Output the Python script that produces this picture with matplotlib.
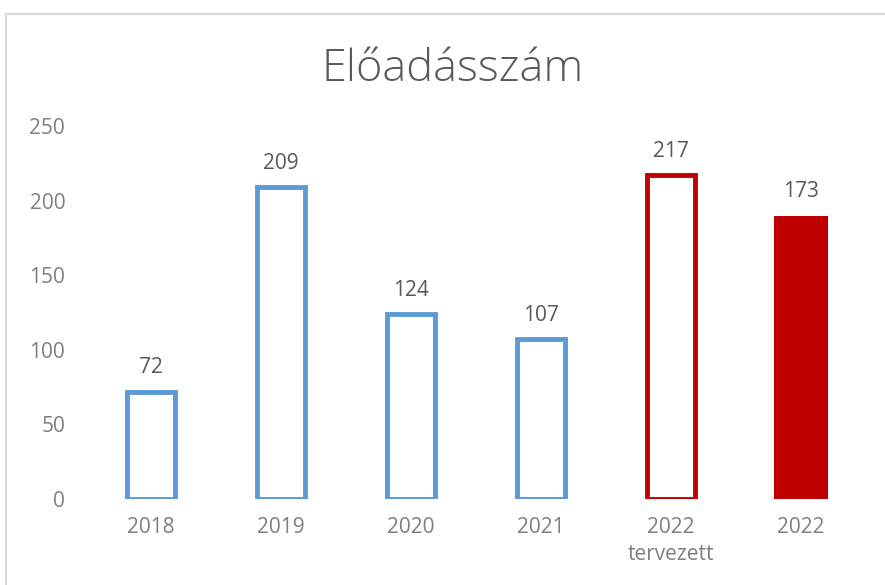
import matplotlib
matplotlib.use('Agg')
import matplotlib.pyplot as plt
from matplotlib.lines import Line2D

# chart values
categories = ['2018', '2019', '2020', '2021', '2022\ntervezett', '2022']
bar_heights = [72, 209, 124, 107, 217, 190]
label_values = [72, 209, 124, 107, 217, 173]
filled = [False, False, False, False, False, True]
colors = ['#5b9bd5', '#5b9bd5', '#5b9bd5', '#5b9bd5', '#c00000', '#c00000']
y_ticks = [0, 50, 100, 150, 200, 250]

plt.rcParams['font.family'] = ['Open Sans', 'DejaVu Sans']

fig = plt.figure(figsize=(8.85, 5.85), dpi=100)
ax = fig.add_axes([0.0972, 0.147, 0.8813, 0.6376])

x = list(range(len(categories)))
for i in x:
    if filled[i]:
        ax.bar(i, bar_heights[i], width=0.415, color=colors[i], edgecolor=colors[i], linewidth=0)
    else:
        ax.bar(i, bar_heights[i], width=0.365, facecolor='white', edgecolor=colors[i], linewidth=3.5)
    ax.text(i, bar_heights[i] + 9, str(label_values[i]), ha='center', va='bottom',
            fontsize=15, color='#595959')

ax.set_xlim(-0.5, len(categories) - 0.5)
ax.set_ylim(0, 250)
ax.set_yticks(y_ticks)
ax.set_xticks(x)
ax.set_xticklabels(categories, fontsize=15, color='#7f7f7f', linespacing=1.4)
ax.tick_params(axis='y', labelsize=15, labelcolor='#7f7f7f', length=0, pad=15)
ax.tick_params(axis='x', length=0, pad=13)
for s in ax.spines.values():
    s.set_visible(False)

fig.text(0.511, 0.88, 'Előadásszám', ha='center', va='center', fontsize=32.5,
         color='#595959', fontweight='light')

# chart frame, only top and left edge visible
fig.add_artist(Line2D([0.007, 1.0], [0.976, 0.976], color='#d9d9d9', linewidth=1.5))
fig.add_artist(Line2D([0.007, 0.007], [0.0, 0.976], color='#d9d9d9', linewidth=1.5))

fig.savefig('out.png', dpi=100)
